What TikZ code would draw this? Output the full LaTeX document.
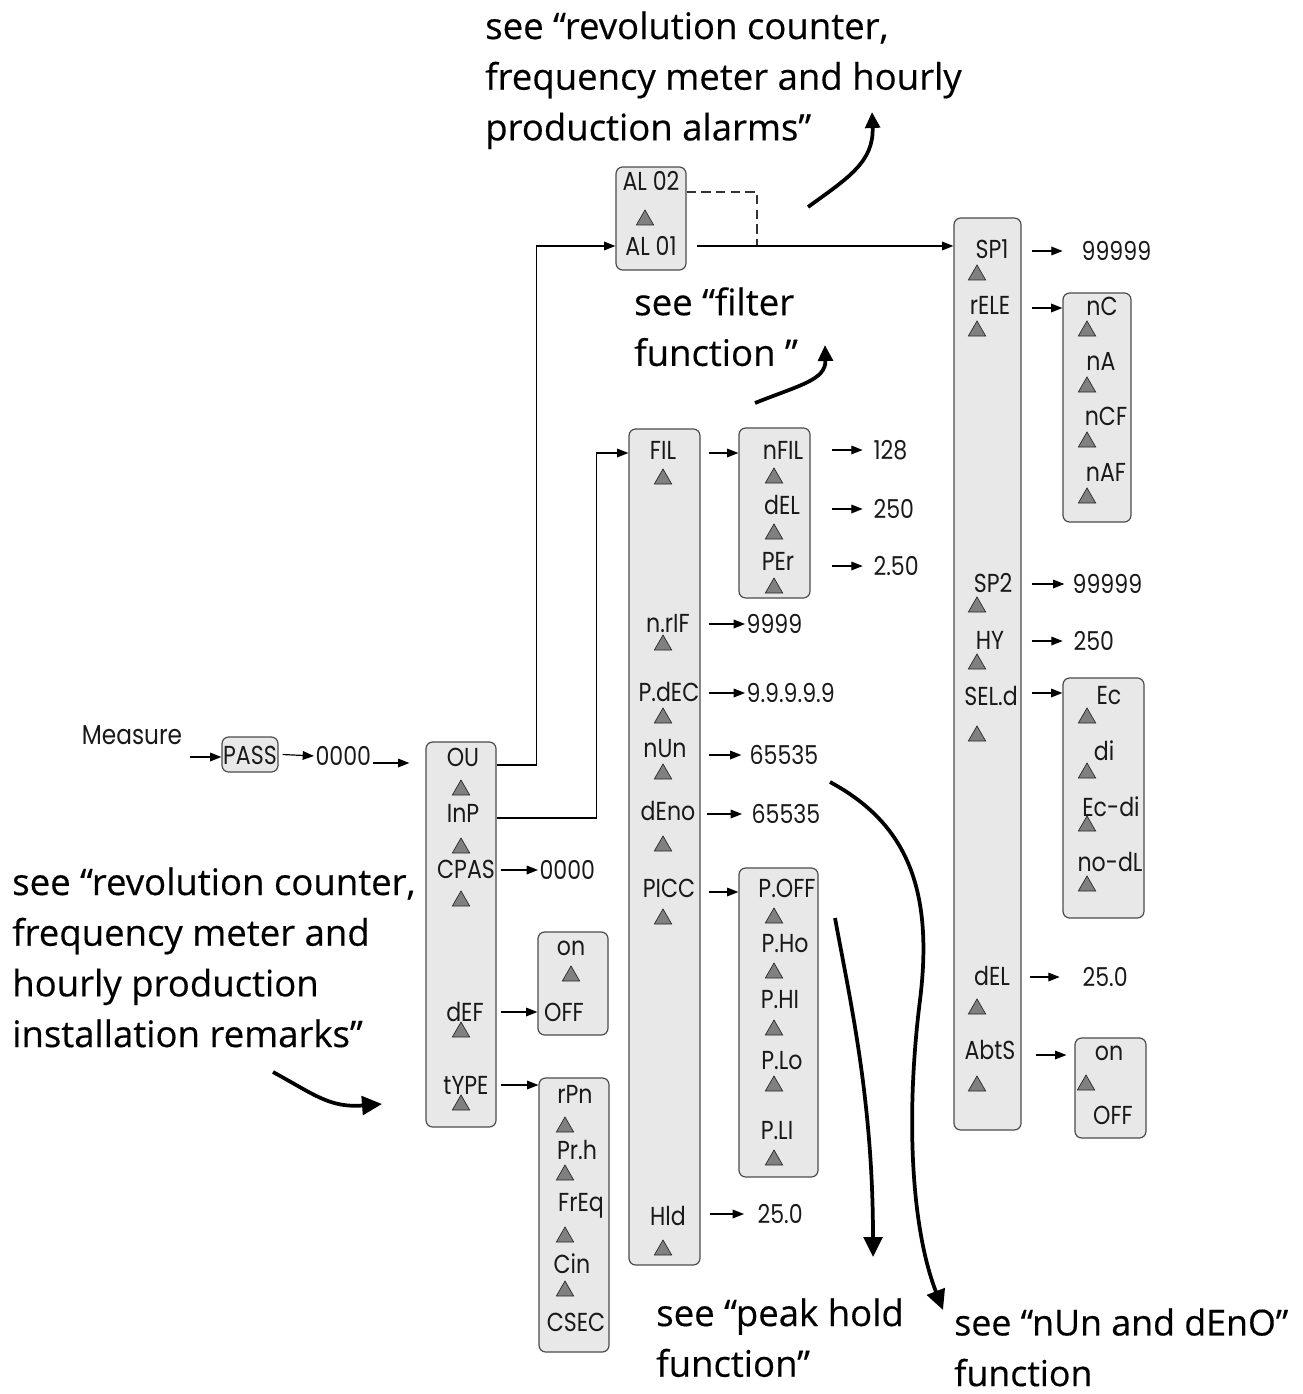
\documentclass[tikz,border=0pt]{standalone}
\usepackage{fontspec}
\usetikzlibrary{arrows.meta,shapes.geometric,fit,calc}
\newfontfamily\lblfont[FakeStretch=0.85]{Poppins}
\newfontfamily\notefont[FakeBold=0.4]{Open Sans}

\begin{document}
\begin{tikzpicture}[x=0.75pt,y=-0.75pt,
  box/.style={draw=black!70, fill=black!9, rounded corners=5pt, line width=0.9pt, inner sep=0pt},
  lbl/.style={font=\lblfont\fontsize{19.5}{22}\selectfont, inner sep=1pt, text=black!90},
  val/.style={lbl, anchor=west},
  tri/.style={regular polygon, regular polygon sides=3, fill=black!50, draw=black!85, line width=0.5pt, minimum size=15pt, inner sep=0pt},
  arr/.style={line width=0.9pt, -{Triangle[length=8.5pt,width=6.5pt]}},
  link/.style={line width=0.9pt, draw=black!80},
  note/.style={font=\notefont\fontsize{27.4}{38}\selectfont, align=left, anchor=north west, inner sep=0pt},
  bigarr/.style={line width=2.8pt, -{Triangle[length=15pt,width=14pt]}},
]
\useasboundingbox (0,0) rectangle (1302,1394);

% ---------- boxes ----------
\node[box, fit={(222,737)(278,772)}] (passbox) {};
\node[box, fit={(426,742)(496,1127)}] (oubox) {};
\node[box, fit={(538,932)(608,1035)}] (defbox) {};
\node[box, fit={(539,1078)(609,1352)}] (typebox) {};
\node[box, fit={(616,167)(686,270)}] (albox) {};
\node[box, fit={(629,429)(700,1265)}] (filbox) {};
\node[box, fit={(739,428)(810,598)}] (nfilbox) {};
\node[box, fit={(739,868)(818,1177)}] (piccbox) {};
\node[box, fit={(954,218)(1021,1130)}] (spbox) {};
\node[box, fit={(1063,293)(1131,522)}] (relebox) {};
\node[box, fit={(1063,678)(1144,918)}] (selbox) {};
\node[box, fit={(1075,1038)(1146,1138)}] (abtbox) {};

% ---------- entry chain ----------
\node[lbl, font=\lblfont\fontsize{20.5}{22}\selectfont] (measure) at (132,735) {Measure};
\node[lbl] (pass) at (250,755) {PASS};
\node[val] (passv) at (314,756) {0000};
\coordinate (m0) at (190,757);
\draw[arr] (m0) -- (passbox.west |- m0);
\draw[arr] ([xshift=3pt]passbox.east) -- (passv.west);
\draw[arr, shorten >=12pt] (passv.east |- 0,763) -- (oubox.west |- 0,763);

% ---------- OU column ----------
\node[lbl] (ou) at (463,757) {OU};
\node[lbl] (inp) at (463,813) {InP};
\node[lbl] (cpas) at (466,869) {CPAS};
\node[lbl] (def) at (465,1012) {dEF};
\node[lbl] (type) at (466,1085) {tYPE};
\foreach \y [count=\i] in {790,848,901,1032,1105}
  \node[tri] (ou-t\i) at (461,\y) {};

\node[val] (cpasv) at (538,870) {0000};
\draw[arr] ([xshift=3pt]oubox.east |- cpasv) -- (cpasv.west);
\draw[arr] ([xshift=3pt]oubox.east |- def) -- (defbox.west |- def);
\draw[arr] ([xshift=3pt]oubox.east |- type) -- (typebox.west |- type);

\node[lbl] (on1) at (571,948) {on};
\node[tri] (def-t1) at (571,976) {};
\node[lbl] (off1) at (564,1012) {OFF};

\node[lbl] (rpn) at (575,1094) {rPn};
\node[lbl] (prh) at (577,1150) {Pr.h};
\node[lbl] (freq) at (581,1206) {FrEq};
\node[lbl] (cin) at (572,1264) {Cin};
\node[lbl] (csec) at (576,1322) {CSEC};
\foreach \y [count=\i] in {1127,1175,1237,1291}
  \node[tri] (type-t\i) at (565,\y) {};

% ---------- alarm selector ----------
\node[lbl] (al02) at (651,181) {AL 02};
\node[tri] (al-t1) at (645,220) {};
\node[lbl] (al01) at (651,246) {AL 01};
\draw[arr] (oubox.east |- 0,765) -- ++(40,0) |- (albox.west |- al01);
\coordinate (join) at (757,246);
\draw[link, dashed, dash pattern=on 7pt off 4pt] (albox.east |- 0,192) -| (join);
\draw[arr] ([xshift=8pt]albox.east |- al01) -- (spbox.west |- al01);

% ---------- input column ----------
\node[lbl] (fil) at (663,450) {FIL};
\node[lbl] (nrif) at (668,624) {n.rIF};
\node[lbl] (pdec) at (669,692) {P.dEC};
\node[lbl] (nun) at (665,749) {nUn};
\node[lbl] (deno) at (668,811) {dEno};
\node[lbl] (picc) at (669,888) {PICC};
\node[lbl] (hld) at (668,1216) {Hld};
\foreach \y [count=\i] in {479,645,718,774,846,919,1250}
  \node[tri] (fil-t\i) at (663,\y) {};
\draw[arr] (oubox.east |- 0,818) -- ++(100,0) |- (filbox.west |- 0,453);

\draw[arr] ([xshift=6pt]filbox.east |- 0,453) -- (nfilbox.west |- 0,453);
\node[lbl] (nfil) at (783,450) {nFIL};
\node[lbl] (del1) at (782,505) {dEL};
\node[lbl] (per) at (778,561) {PEr};
\foreach \y [count=\i] in {478,534,588}
  \node[tri] (nfil-t\i) at (774,\y) {};
\node[val] (nfilv) at (872,450) {128};
\node[val] (del1v) at (872,509) {250};
\node[val] (perv) at (872,566) {2.50};
\foreach \v in {nfilv,del1v,perv}
  \draw[arr, shorten >=7pt] ([xshift=16pt]nfilbox.east |- \v) -- (\v.west);

\node[val] (nrifv) at (745,624) {9999};
\node[val] (pdecv) at (745,693) {9.9.9.9.9};
\node[val] (nunv) at (748,755) {65535};
\node[val] (denov) at (750,814) {65535};
\node[val] (hldv) at (756,1214) {25.0};
\draw[arr] ([xshift=6pt]filbox.east |- nrifv) -- (nrifv.west);
\draw[arr] ([xshift=6pt]filbox.east |- pdecv) -- (pdecv.west);
\draw[arr, shorten >=5pt] ([xshift=6pt]filbox.east |- nunv) -- (nunv.west);
\draw[arr, shorten >=6pt] ([xshift=5pt]filbox.east |- denov) -- (denov.west);
\draw[arr, shorten >=9pt] ([xshift=7pt]filbox.east |- hldv) -- (hldv.west);

\draw[arr] ([xshift=6pt]filbox.east |- 0,892) -- (piccbox.west |- 0,892);
\node[lbl] (poff) at (787,888) {P.OFF};
\node[lbl] (pho) at (785,944) {P.Ho};
\node[lbl] (phi) at (780,1000) {P.HI};
\node[lbl] (plo) at (782,1061) {P.Lo};
\node[lbl] (pli) at (777,1131) {P.LI};
\foreach \y [count=\i] in {918,973,1030,1086,1160}
  \node[tri] (picc-t\i) at (774,\y) {};

% ---------- set point column ----------
\node[lbl] (sp1) at (992,249) {SP1};
\node[lbl] (rele) at (990,305) {rELE};
\node[lbl] (sp2) at (993,583) {SP2};
\node[lbl] (hy) at (990,640) {HY};
\node[lbl] (seld) at (991,696) {SEL.d};
\node[lbl] (del2) at (992,976) {dEL};
\node[lbl] (abts) at (990,1050) {AbtS};
\foreach \y [count=\i] in {275,331,607,664,736,1009,1086}
  \node[tri] (sp-t\i) at (977,\y) {};

\node[val] (sp1v) at (1080,251) {99999};
\node[val] (sp2v) at (1071,584) {99999};
\node[val] (hyv) at (1072,641) {250};
\node[val] (del2v) at (1081,977) {25.0};
\draw[arr, shorten >=13pt] ([xshift=7.5pt]spbox.east |- sp1v) -- (sp1v.west);
\draw[arr, shorten >=5pt] ([xshift=7.5pt]spbox.east |- sp2v) -- (sp2v.west);
\draw[arr, shorten >=7pt] ([xshift=7.5pt]spbox.east |- hyv) -- (hyv.west);
\draw[arr, shorten >=16pt] ([xshift=6pt]spbox.east |- del2v) -- (del2v.west);

\draw[arr] ([xshift=7.5pt]spbox.east |- 0,308) -- (relebox.west |- 0,308);
\node[lbl] (nc) at (1102,306) {nC};
\node[lbl] (na) at (1101,361) {nA};
\node[lbl] (ncf) at (1106,416) {nCF};
\node[lbl] (naf) at (1106,472) {nAF};
\foreach \y [count=\i] in {331,387,442,498}
  \node[tri] (rele-t\i) at (1087,\y) {};

\draw[arr] ([xshift=7.5pt]spbox.east |- 0,693) -- (selbox.west |- 0,693);
\node[lbl] (ec) at (1109,696) {Ec};
\node[lbl] (di) at (1104,751) {di};
\node[lbl] (ecdi) at (1111,807) {Ec-di};
\node[lbl] (nodl) at (1110,862) {no-dL};
\foreach \y [count=\i] in {718,773,826,886}
  \node[tri] (sel-t\i) at (1087,\y) {};

\draw[arr, shorten >=6pt] ([xshift=11pt]spbox.east |- 0,1055) -- (abtbox.west |- 0,1055);
\node[lbl] (on2) at (1109,1053) {on};
\node[tri] (abt-t1) at (1086,1085) {};
\node[lbl] (off2) at (1113,1115) {OFF};

% ---------- cross references ----------
\node[note] (n-alarm) at (485,11) {see “revolution counter,\\frequency meter and hourly\\production alarms”};
\node[note] (n-filter) at (634,287) {see “filter\\function ”};
\node[note] (n-install) at (12,867) {see “revolution counter,\\frequency meter and\\hourly production\\installation remarks”};
\node[note] (n-peak) at (656,1298) {see “peak hold\\function”};
\node[note, font=\notefont\fontsize{26.8}{38}\selectfont] (n-nun) at (954,1308) {see “nUn and dEnO”\\function};

\coordinate (c-alarm) at (808,207);
\coordinate (c-filter) at (755,403);
\coordinate (c-install) at (273,1072);
\coordinate (c-peak) at (835,918);
\coordinate (c-nun) at (830,782);

\draw[bigarr, -{Triangle[length=12pt,width=11pt]}] (c-alarm) .. controls (848,178) and (874,162) .. (872,112);
\draw[bigarr, -{Triangle[length=12pt,width=11pt]}] (c-filter) .. controls (800,385) and (826,380) .. (825,345);
\draw[bigarr] (c-install) .. controls (315,1095) and (330,1108) .. (382,1104);
\draw[bigarr] (c-peak) .. controls (850,1000) and (873,1100) .. (873,1257);
\draw[bigarr] (c-nun) .. controls (900,820) and (935,880) .. (920,1000)
  .. controls (905,1120) and (912,1230) .. (943,1310);
\end{tikzpicture}
\end{document}
